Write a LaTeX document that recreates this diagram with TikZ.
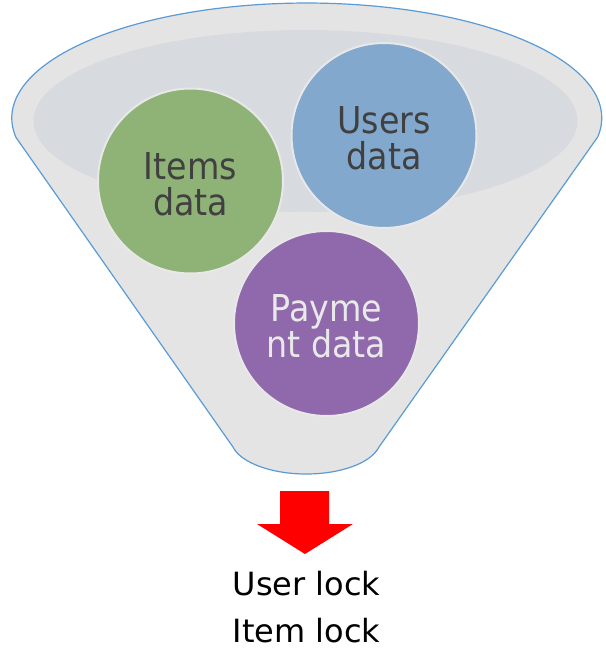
\documentclass[tikz,border=0pt]{standalone}
\usepackage{fontspec}
\setmainfont{DejaVu Sans}
\newfontfamily\condfont{DejaVu Sans Condensed}
\definecolor{funnelfill}{HTML}{E4E4E4}
\definecolor{funnelline}{HTML}{5B9BD5}
\definecolor{innerfill}{HTML}{D7DADF}
\definecolor{itemsgreen}{HTML}{8FB376}
\definecolor{usersblue}{HTML}{82A8CD}
\definecolor{paypurple}{HTML}{8F69AB}
\definecolor{darktext}{HTML}{404040}
\definecolor{lighttext}{HTML}{E9E9E9}
\definecolor{ringcol}{HTML}{E8E8E8}
\tikzset{
  bubble/.style={circle, draw=ringcol, line width=2pt, minimum size=185pt, inner sep=0pt},
  bubbletext/.style={align=center, inner sep=0pt, font={\condfont\fontsize{37}{36}\selectfont}},
  locktext/.style={anchor=base, font={\fontsize{32}{40}\selectfont}, text=black, inner sep=0pt}
}
\begin{document}
\begin{tikzpicture}[x=1pt,y=-1pt]
\useasboundingbox (0,0) rectangle (606,649);
% funnel body
\draw[fill=funnelfill, draw=funnelline, line width=1.2pt, line join=round]
  (15.7,137) -- (233,447)
  .. controls (241,463) and (272,474) .. (306,474)
  .. controls (341,474) and (371,463) .. (379,447)
  -- (597.7,137)
  arc[start angle=-9.5, end angle=189.5, x radius=295, y radius=-115] -- cycle;
% inner ellipse
\fill[innerfill] (305.5,121) ellipse[x radius=272, y radius=91];
% bubbles
\node[bubble, fill=itemsgreen] (items) at (190.5,181) {};
\node[bubble, fill=usersblue] (users) at (384,135.5) {};
\node[bubble, fill=paypurple] (payment) at (326.5,323.5) {};
\node[bubbletext, text=darktext] (itemslabel) at ([yshift=-3pt]items.center) {Items\\data};
\node[bubbletext, text=darktext] (userslabel) at ([yshift=-3pt]users.center) {Users\\data};
\node[bubbletext, text=lighttext] (paymentlabel) at ([yshift=-3pt]payment.center) {Payme\\nt data};
% arrow
\fill[red] (280,491) -- (329,491) -- (329,524) -- (353,524) -- (305,554) -- (257,524) -- (280,524) -- cycle;
% result text
\node[locktext] (userlock) at (306.5,595) {User lock};
\node[locktext] (itemlock) at (306.5,642) {Item lock};
\end{tikzpicture}
\end{document}
